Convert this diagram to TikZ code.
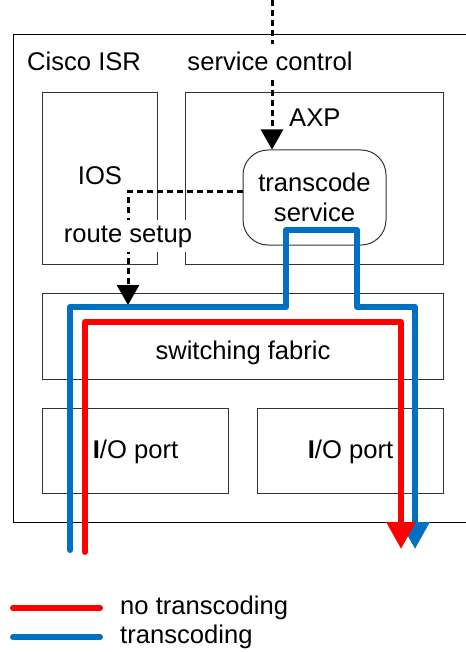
\documentclass[tikz,border=0pt]{standalone}
\usepackage{fontspec}
\setmainfont{Liberation Sans}
\usepackage{tikz}
\usetikzlibrary{positioning,arrows.meta}
\definecolor{nored}{RGB}{255,0,0}
\definecolor{tcblue}{RGB}{0,112,192}

\begin{document}
\begin{tikzpicture}[
  x=1pt, y=-1pt,
  font=\fontsize{25.6}{30}\selectfont,
  every node/.style={inner sep=0pt},
  unit/.style={draw=black!80, line width=1pt},
  ctrl/.style={line width=3pt, dash pattern=on 6pt off 4pt,
    -{Triangle[width=22pt,length=20pt]}},
  flow/.style={line width=6pt, line join=round, line cap=round,
    -{Triangle[width=28pt,length=27pt]}},
  legline/.style={line width=6pt, line cap=round},
  tlabel/.style={anchor=base},
]
\useasboundingbox (0,0) rectangle (465,652);

% boxes
\node[unit, draw=black, minimum width=457pt, minimum height=487pt] (isr) at (241.5,278.5) {};
\node[unit, minimum width=115pt, minimum height=171pt] (ios) at (99.5,178.5) {};
\node[unit, minimum width=258pt, minimum height=171pt] (axp) at (314,178.5) {};
\node[unit, minimum width=143pt, minimum height=95pt, rounded corners=25pt,
  align=center] (ts) at (314.5,197.5) {transcode\\service};
\node[unit, minimum width=401pt, minimum height=86pt] (fabric) at (242.5,336) {};
\node[unit, minimum width=186pt, minimum height=85pt] (portl) at (135,450.5) {};
\node[unit, minimum width=186pt, minimum height=85pt] (portr) at (350,450.5) {};

% control connectors
\coordinate (sctop) at (272,0);
\coordinate (rsend) at (128,305);
\draw[ctrl] (sctop) -- (sctop |- ts.north);
\draw[ctrl] ([yshift=5.5pt]ts.west) -| (rsend);

% labels
\node[tlabel, anchor=base west] (isrlabel) at (27,71) {Cisco ISR};
\node[tlabel, fill=white, inner sep=8pt] (sclabel) at (270,71) {service control};
\node[tlabel, anchor=base west] (axplabel) at (289,127) {AXP};
\node[tlabel] (ioslabel) at (100,185) {IOS};
\node[tlabel, fill=white, inner sep=5pt] (rslabel) at (128,242) {route setup};
\node[tlabel] (fabriclabel) at (243,359) {switching fabric};
\node[tlabel] (portllabel) at (135.5,458) {\textbf{I}/O port};
\node[tlabel] (portrlabel) at (350.5,458) {\textbf{I}/O port};

% media paths
\coordinate (tcin) at (70,550);
\coordinate (tcout) at (415,549);
\coordinate (notcin) at (85,552);
\coordinate (notcout) at (401,549);
\draw[flow, tcblue] (tcin) |- (286,307) |- (357,230) |- (tcout |- 0,307) -- (tcout);
\draw[flow, nored] (notcin) |- (notcout |- 0,322) -- (notcout);

% legend
\coordinate (lgr1) at (13,608);
\coordinate (lgr2) at (100,608);
\coordinate (lgb1) at (13,637);
\coordinate (lgb2) at (100,637);
\draw[legline, nored] (lgr1) -- (lgr2);
\draw[legline, tcblue] (lgb1) -- (lgb2);
\node[tlabel, anchor=base west] (lgrlabel) at (120,614) {no transcoding};
\node[tlabel, anchor=base west] (lgblabel) at (120,643) {transcoding};
\end{tikzpicture}
\end{document}
